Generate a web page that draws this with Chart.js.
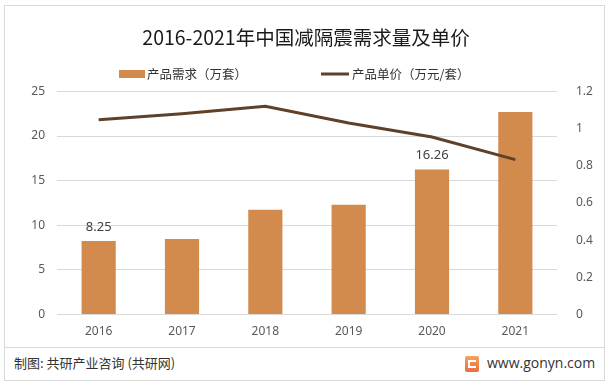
<!DOCTYPE html>
<html>
<head>
<meta charset="utf-8">
<script src="https://cdn.jsdelivr.net/npm/chart.js@4.4.0/dist/chart.umd.min.js"></script>
<style>
    body { margin: 0; background: #fff; font-family: "Noto Sans CJK SC", "Noto Sans", sans-serif; }
    #wrap { position: relative; width: 612px; height: 386px; overflow: hidden; }
    #frame { position: absolute; left: 4px; top: 5px; width: 601px; height: 376px; border: 1px solid #d9d9d9; box-sizing: border-box; }
    #sep { position: absolute; left: 4px; top: 347px; width: 601px; height: 1px; background: #d9d9d9; }
    #chartBox { position: absolute; left: 0; top: 0; width: 612px; height: 347px; }
    .foot { position: absolute; top: 354px; font-size: 13px; color: #333; line-height: 18px; }
    #src { left: 14px; }
    #site { left: 487px; font-family: "Open Sans", "Noto Sans", sans-serif; font-size: 14px; }
    #logo { position: absolute; left: 465px; top: 356px; width: 14px; height: 16px; border-radius: 2px;
            background: linear-gradient(180deg, #f6a35a, #ee6b3b); }
    #logo:after { content: ""; position: absolute; left: 3px; top: 4px; width: 8px; height: 8px; border: 2px solid #fff; border-right: none; box-sizing: border-box; }
</style>
</head>
<body>
<div id="wrap">
    <div id="frame"></div>
    <div id="sep"></div>
    <div id="chartBox"><canvas id="demandChart"></canvas></div>
    <div id="logo"></div>
    <div class="foot" id="src">制图: 共研产业咨询 (共研网)</div>
    <div class="foot" id="site">www.gonyn.com</div>
</div>
<script>
// --- data ---
const years = ['2016', '2017', '2018', '2019', '2020', '2021'];
const demand = [8.25, 8.48, 11.75, 12.3, 16.26, 22.7];      // 万套
const unitPrice = [1.047, 1.08, 1.12, 1.03, 0.955, 0.833];  // 万元/套
const demandLabels = ['8.25', '', '', '', '16.26', ''];

const barColor = '#d38b4d';
const lineColor = '#5f4029';
const textColor = '#595959';
const gridColor = '#d9d9d9';

// 只给部分柱子标数值
const barLabelPlugin = {
    id: 'barLabels',
    afterDatasetsDraw(chart) {
        const ctx = chart.ctx;
        const meta = chart.getDatasetMeta(1);
        ctx.save();
        ctx.font = '13px "Noto Sans", "Noto Sans CJK SC", sans-serif';
        ctx.fillStyle = '#404040';
        ctx.textAlign = 'center';
        ctx.textBaseline = 'middle';
        meta.data.forEach((bar, i) => {
            if (demandLabels[i]) ctx.fillText(demandLabels[i], bar.x, bar.y - 14);
        });
        ctx.restore();
    }
};

// 图例手动画，间距跟原图一致
const legendPlugin = {
    id: 'customLegend',
    afterDraw(chart) {
        const ctx = chart.ctx;
        const y = 74;
        const gap = 74;
        ctx.save();
        ctx.font = '12.5px "Noto Sans CJK SC", sans-serif';
        ctx.textBaseline = 'middle';
        const bar = chart.data.datasets[1];
        const line = chart.data.datasets[0];
        let x = 119;
        ctx.fillStyle = bar.backgroundColor;
        ctx.fillRect(x, y - 4, 26, 8);
        x += 28;
        ctx.fillStyle = '#333';
        ctx.fillText(bar.label, x, y);
        x += ctx.measureText(bar.label).width + gap;
        ctx.strokeStyle = line.borderColor;
        ctx.lineWidth = 3;
        ctx.beginPath();
        ctx.moveTo(x, y);
        ctx.lineTo(x + 28, y);
        ctx.stroke();
        x += 31;
        ctx.fillText(line.label, x, y);
        ctx.restore();
    }
};

const ctx = document.getElementById('demandChart').getContext('2d');
new Chart(ctx, {
    type: 'bar',
    data: {
        labels: years,
        datasets: [
            {
                type: 'line',
                label: '产品单价（万元/套）',
                data: unitPrice,
                yAxisID: 'y1',
                borderColor: lineColor,
                backgroundColor: lineColor,
                borderWidth: 3,
                pointRadius: 0,
                tension: 0,
                order: 0
            },
            {
                type: 'bar',
                label: '产品需求（万套）',
                data: demand,
                yAxisID: 'y',
                backgroundColor: barColor,
                borderWidth: 0,
                barPercentage: 0.82,
                categoryPercentage: 0.5,
                order: 1
            }
        ]
    },
    options: {
        responsive: true,
        maintainAspectRatio: false,
        animation: false,
        layout: { padding: { left: 0, right: 0, top: 0, bottom: 6 } },
        plugins: {
            title: {
                display: true,
                text: '2016-2021年中国减隔震需求量及单价',
                color: '#1a1a1a',
                font: { size: 19.5, weight: 'normal', family: '"Noto Sans CJK SC", sans-serif' },
                padding: { top: 26, bottom: 42 }
            },
            legend: { display: false },
            tooltip: { enabled: false }
        },
        scales: {
            x: {
                grid: { display: false },
                border: { display: false },
                ticks: {
                    color: textColor,
                    padding: 2,
                    font: { size: 12, family: '"Noto Sans", sans-serif' }
                }
            },
            y: {
                type: 'linear',
                position: 'left',
                min: 0,
                max: 25,
                afterFit(scale) { scale.width = 57; },
                grid: { color: gridColor, lineWidth: 1, drawTicks: false },
                border: { display: false },
                ticks: {
                    stepSize: 5,
                    color: textColor,
                    padding: 12,
                    font: { size: 12, family: '"Noto Sans", sans-serif' }
                }
            },
            y1: {
                type: 'linear',
                position: 'right',
                min: 0,
                max: 1.2,
                afterFit(scale) { scale.width = 55; },
                grid: { display: false },
                border: { display: false },
                ticks: {
                    stepSize: 0.2,
                    color: textColor,
                    padding: 11,
                    font: { size: 12, family: '"Noto Sans", sans-serif' },
                    callback: v => String(Number(v.toFixed(1)))
                }
            }
        }
    },
    plugins: [barLabelPlugin, legendPlugin]
});
</script>
</body>
</html>
